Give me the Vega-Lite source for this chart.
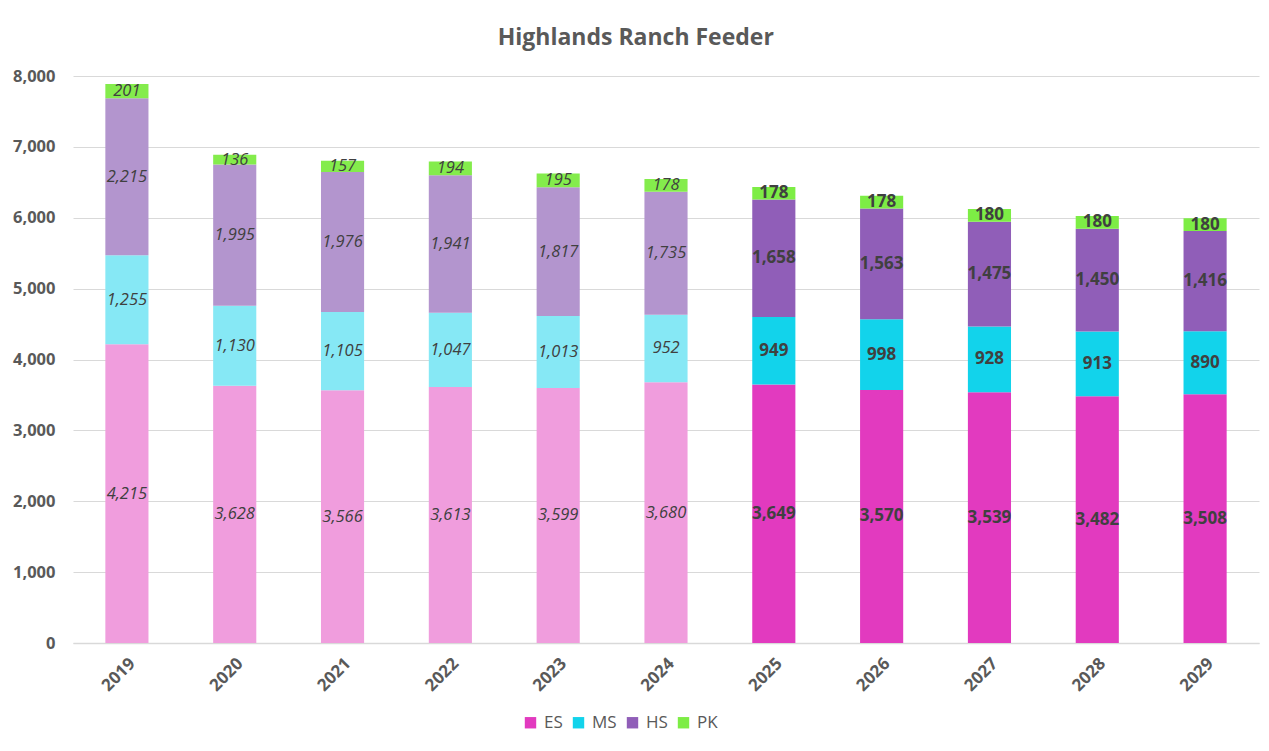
{
  "$schema": "https://vega.github.io/schema/vega-lite/v6.json",
  "width": 1186,
  "height": 567,
  "autosize": {"type": "none"},
  "padding": {"left": 73, "top": 76, "right": 10, "bottom": 108},
  "background": "white",
  "title": {"text": "Highlands Ranch Feeder", "fontSize": 23, "font": "Open Sans", "fontWeight": "bold", "color": "#595959", "anchor": "middle", "frame": "bounds", "offset": 18},
  "datasets": {
    "segs": [
      {"seg": "ES", "rank": 1},
      {"seg": "MS", "rank": 2},
      {"seg": "HS", "rank": 3},
      {"seg": "PK", "rank": 4}
    ]
  },
  "data": {"values": [
    {"year": "2019", "seg": "ES", "value": 4215, "period": "hist"},
    {"year": "2019", "seg": "MS", "value": 1255, "period": "hist"},
    {"year": "2019", "seg": "HS", "value": 2215, "period": "hist"},
    {"year": "2019", "seg": "PK", "value": 201, "period": "hist"},
    {"year": "2020", "seg": "ES", "value": 3628, "period": "hist"},
    {"year": "2020", "seg": "MS", "value": 1130, "period": "hist"},
    {"year": "2020", "seg": "HS", "value": 1995, "period": "hist"},
    {"year": "2020", "seg": "PK", "value": 136, "period": "hist"},
    {"year": "2021", "seg": "ES", "value": 3566, "period": "hist"},
    {"year": "2021", "seg": "MS", "value": 1105, "period": "hist"},
    {"year": "2021", "seg": "HS", "value": 1976, "period": "hist"},
    {"year": "2021", "seg": "PK", "value": 157, "period": "hist"},
    {"year": "2022", "seg": "ES", "value": 3613, "period": "hist"},
    {"year": "2022", "seg": "MS", "value": 1047, "period": "hist"},
    {"year": "2022", "seg": "HS", "value": 1941, "period": "hist"},
    {"year": "2022", "seg": "PK", "value": 194, "period": "hist"},
    {"year": "2023", "seg": "ES", "value": 3599, "period": "hist"},
    {"year": "2023", "seg": "MS", "value": 1013, "period": "hist"},
    {"year": "2023", "seg": "HS", "value": 1817, "period": "hist"},
    {"year": "2023", "seg": "PK", "value": 195, "period": "hist"},
    {"year": "2024", "seg": "ES", "value": 3680, "period": "hist"},
    {"year": "2024", "seg": "MS", "value": 952, "period": "hist"},
    {"year": "2024", "seg": "HS", "value": 1735, "period": "hist"},
    {"year": "2024", "seg": "PK", "value": 178, "period": "hist"},
    {"year": "2025", "seg": "ES", "value": 3649, "period": "proj"},
    {"year": "2025", "seg": "MS", "value": 949, "period": "proj"},
    {"year": "2025", "seg": "HS", "value": 1658, "period": "proj"},
    {"year": "2025", "seg": "PK", "value": 178, "period": "proj"},
    {"year": "2026", "seg": "ES", "value": 3570, "period": "proj"},
    {"year": "2026", "seg": "MS", "value": 998, "period": "proj"},
    {"year": "2026", "seg": "HS", "value": 1563, "period": "proj"},
    {"year": "2026", "seg": "PK", "value": 178, "period": "proj"},
    {"year": "2027", "seg": "ES", "value": 3539, "period": "proj"},
    {"year": "2027", "seg": "MS", "value": 928, "period": "proj"},
    {"year": "2027", "seg": "HS", "value": 1475, "period": "proj"},
    {"year": "2027", "seg": "PK", "value": 180, "period": "proj"},
    {"year": "2028", "seg": "ES", "value": 3482, "period": "proj"},
    {"year": "2028", "seg": "MS", "value": 913, "period": "proj"},
    {"year": "2028", "seg": "HS", "value": 1450, "period": "proj"},
    {"year": "2028", "seg": "PK", "value": 180, "period": "proj"},
    {"year": "2029", "seg": "ES", "value": 3508, "period": "proj"},
    {"year": "2029", "seg": "MS", "value": 890, "period": "proj"},
    {"year": "2029", "seg": "HS", "value": 1416, "period": "proj"},
    {"year": "2029", "seg": "PK", "value": 180, "period": "proj"}
  ]},
  "transform": [
    {"lookup": "seg", "from": {"data": {"name": "segs"}, "key": "seg", "fields": ["rank"]}}
  ],
  "encoding": {
    "x": {"field": "year", "type": "ordinal", "title": null,
      "scale": {"paddingInner": 0.6, "paddingOuter": 0.3},
      "axis": {"labelAngle": -45, "labelFontSize": 17, "labelFont": "Open Sans", "labelFontWeight": "bold", "labelColor": "#595959", "ticks": false, "domainColor": "#d9d9d9", "domainWidth": 1.5, "labelPadding": 12}},
    "y": {"field": "value", "type": "quantitative", "stack": "zero", "title": null,
      "scale": {"domain": [0, 8000]},
      "axis": {"values": [0, 1000, 2000, 3000, 4000, 5000, 6000, 7000, 8000], "format": ",.0f", "labelFontSize": 16.5, "labelFont": "Open Sans", "labelFontWeight": "bold", "labelColor": "#595959", "ticks": false, "domain": false, "gridColor": "#d9d9d9", "gridWidth": 1.2, "labelPadding": 18}},
    "order": {"field": "rank", "type": "quantitative", "sort": "ascending"}
  },
  "layer": [
    {
      "transform": [{"filter": "datum.period == 'hist'"}],
      "mark": {"type": "bar"},
      "encoding": {
        "color": {"field": "seg", "type": "nominal",
          "scale": {"domain": ["ES", "MS", "HS", "PK"], "range": ["#F09DDD", "#86E8F5", "#B395CE", "#84EC4C"]}, "legend": null}
      }
    },
    {
      "transform": [{"filter": "datum.period == 'proj'"}],
      "mark": {"type": "bar"},
      "encoding": {
        "color": {"field": "seg", "type": "nominal",
          "scale": {"domain": ["ES", "MS", "HS", "PK"], "range": ["#E23ABF", "#12D3EB", "#905EB8", "#7DED45"]},
          "legend": {"title": null, "orient": "none", "legendX": 449, "legendY": 638, "direction": "horizontal", "symbolType": "square", "symbolSize": 130, "symbolStrokeWidth": 0, "labelFontSize": 17, "labelFont": "Open Sans", "labelColor": "#595959", "columnPadding": 7, "labelOffset": 5}}
      }
    },
    {
      "transform": [{"filter": "datum.period == 'hist'"}],
      "mark": {"type": "text", "font": "Open Sans", "fontSize": 16.5, "fontStyle": "italic", "color": "#404040", "baseline": "middle"},
      "encoding": {
        "y": {"field": "value", "type": "quantitative", "stack": "zero", "bandPosition": 0.5},
        "detail": {"field": "seg", "type": "nominal"},
        "text": {"field": "value", "type": "quantitative", "format": ","}
      }
    },
    {
      "transform": [{"filter": "datum.period == 'proj'"}],
      "mark": {"type": "text", "font": "Open Sans", "fontSize": 17, "fontWeight": "bold", "color": "#404040", "baseline": "middle"},
      "encoding": {
        "y": {"field": "value", "type": "quantitative", "stack": "zero", "bandPosition": 0.5},
        "detail": {"field": "seg", "type": "nominal"},
        "text": {"field": "value", "type": "quantitative", "format": ","}
      }
    }
  ],
  "resolve": {"scale": {"color": "independent"}},
  "config": {"view": {"stroke": null}}
}
